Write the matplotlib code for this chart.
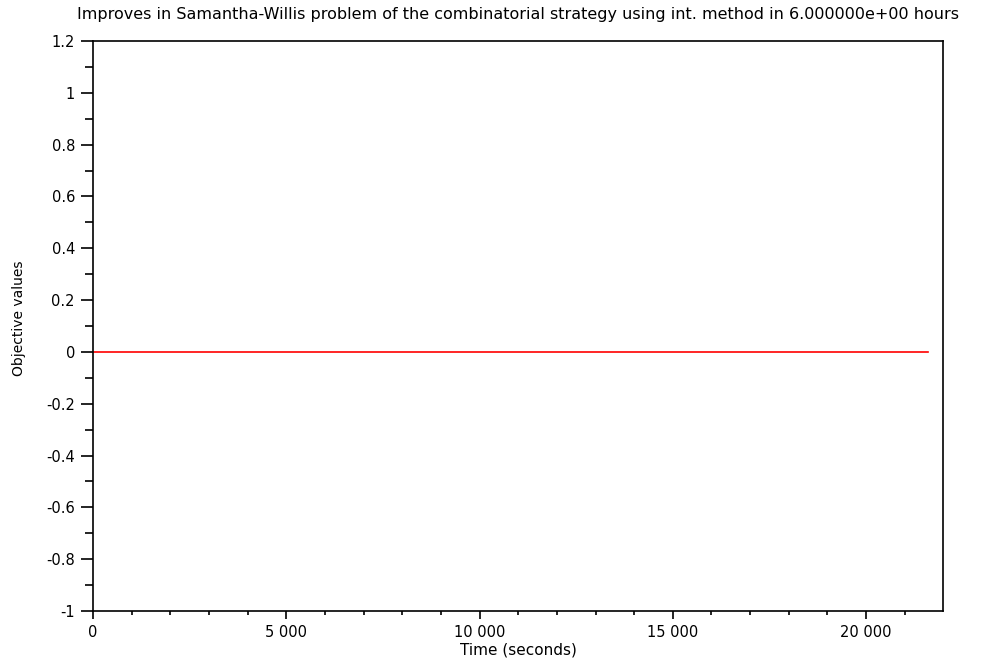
import numpy as np
import matplotlib as mpl
mpl.use('Agg')
import matplotlib.pyplot as plt
from matplotlib.ticker import MultipleLocator, FuncFormatter

# objective value recorded over the 6 hour run
time_s = [0, 21600]
objective = [0, 0]

run_hours = 6.0
title = ("Improves in Samantha-Willis problem of the combinatorial strategy "
         "using int. method in %e hours" % run_hours)

font = {'family': 'DejaVu Sans', 'size': 10}
mpl.rc('font', **font)

fig = plt.figure(figsize=(10, 6.68), dpi=100)
ax = fig.add_axes([0.093, 0.0853, 0.85, 0.8533])

ax.plot(time_s, objective, color="red", linestyle='-', linewidth=1.2)

ax.set_xlim(0, 21990)
ax.set_ylim(-1, 1.2)

ax.xaxis.set_major_locator(MultipleLocator(5000))
ax.xaxis.set_minor_locator(MultipleLocator(1000))
ax.yaxis.set_major_locator(MultipleLocator(0.2))
ax.yaxis.set_minor_locator(MultipleLocator(0.1))

def thousands(v, pos):
    return f"{int(round(v)):,}".replace(",", " ")

def plain(v, pos):
    s = f"{v:.1f}".rstrip("0").rstrip(".")
    return "0" if s in ("-0", "0") else s

ax.xaxis.set_major_formatter(FuncFormatter(thousands))
ax.yaxis.set_major_formatter(FuncFormatter(plain))

ax.tick_params(axis='both', which='major', labelsize=10.5)
ax.tick_params(axis='x', which='major', direction='out', length=6, width=1.2, pad=4)
ax.tick_params(axis='x', which='minor', direction='out', length=3, width=1.2)
ax.tick_params(axis='y', which='major', direction='out', length=9, width=1.2, pad=4)
ax.tick_params(axis='y', which='minor', direction='out', length=6, width=1.2)
ax.tick_params(top=False, right=False, which='both')

for sp in ax.spines.values():
    sp.set_linewidth(1.2)
    sp.set_color('black')

ax.set_xlabel("Time (seconds)", labelpad=2, fontsize=11)
ax.set_ylabel("Objective values", va='center')
ax.yaxis.set_label_coords(-0.0865, 0.513)
fig.text(0.518, 1 - 15 / 668, title, ha='center', va='center', fontsize=11.5)

plt.savefig("out.png", dpi=100)
plt.close(fig)
